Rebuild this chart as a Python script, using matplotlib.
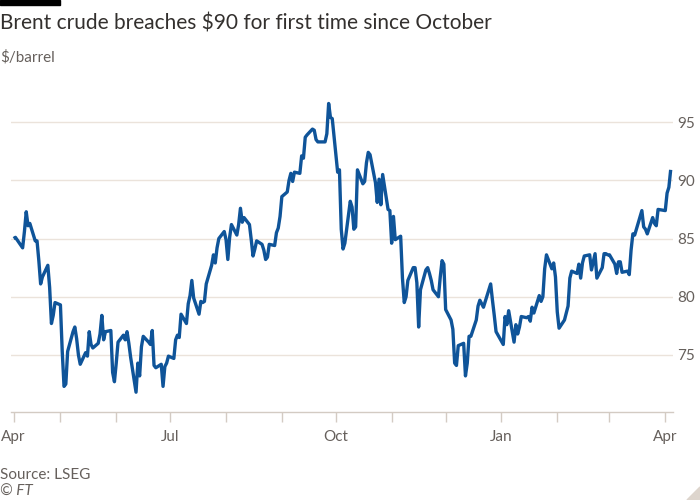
import matplotlib
matplotlib.use('Agg')
import matplotlib.pyplot as plt
from matplotlib.patches import Polygon
import pandas as pd

plt.rcParams['font.family'] = ['Lato', 'DejaVu Sans']

# Brent crude, $/barrel (daily)
dates = [
    # Apr 2023
    '2023-04-05', '2023-04-06', '2023-04-10', '2023-04-11', '2023-04-12', '2023-04-13',
    '2023-04-14', '2023-04-17', '2023-04-18', '2023-04-19', '2023-04-20', '2023-04-21',
    '2023-04-24', '2023-04-25', '2023-04-26', '2023-04-27', '2023-04-28',
    # May
    '2023-05-01', '2023-05-02', '2023-05-03', '2023-05-04', '2023-05-05', '2023-05-08',
    '2023-05-09', '2023-05-10', '2023-05-11', '2023-05-12', '2023-05-15', '2023-05-16',
    '2023-05-17', '2023-05-18', '2023-05-19', '2023-05-22', '2023-05-23', '2023-05-24',
    '2023-05-25', '2023-05-26', '2023-05-29', '2023-05-30', '2023-05-31',
    # Jun
    '2023-06-01', '2023-06-02', '2023-06-05', '2023-06-06', '2023-06-07', '2023-06-08',
    '2023-06-09', '2023-06-12', '2023-06-13', '2023-06-14', '2023-06-15', '2023-06-16',
    '2023-06-19', '2023-06-20', '2023-06-21', '2023-06-22', '2023-06-23', '2023-06-26',
    '2023-06-27', '2023-06-28', '2023-06-29', '2023-06-30',
    # Jul
    '2023-07-03', '2023-07-04', '2023-07-05', '2023-07-06', '2023-07-07', '2023-07-10',
    '2023-07-11', '2023-07-12', '2023-07-13', '2023-07-14', '2023-07-17', '2023-07-18',
    '2023-07-19', '2023-07-20', '2023-07-21', '2023-07-24', '2023-07-25', '2023-07-26',
    '2023-07-27', '2023-07-28', '2023-07-31',
    # Aug
    '2023-08-01', '2023-08-02', '2023-08-03', '2023-08-04', '2023-08-07', '2023-08-08',
    '2023-08-09', '2023-08-10', '2023-08-11', '2023-08-14', '2023-08-15', '2023-08-16',
    '2023-08-17', '2023-08-18', '2023-08-21', '2023-08-22', '2023-08-23', '2023-08-24',
    '2023-08-25', '2023-08-28', '2023-08-29', '2023-08-30', '2023-08-31',
    # Sep
    '2023-09-01', '2023-09-04', '2023-09-05', '2023-09-06', '2023-09-07', '2023-09-08',
    '2023-09-11', '2023-09-12', '2023-09-13', '2023-09-14', '2023-09-15', '2023-09-18',
    '2023-09-19', '2023-09-20', '2023-09-21', '2023-09-22', '2023-09-25', '2023-09-26',
    '2023-09-27', '2023-09-28', '2023-09-29',
    # Oct
    '2023-10-02', '2023-10-03', '2023-10-04', '2023-10-05', '2023-10-06', '2023-10-09',
    '2023-10-10', '2023-10-11', '2023-10-12', '2023-10-13', '2023-10-16', '2023-10-17',
    '2023-10-18', '2023-10-19', '2023-10-20', '2023-10-23', '2023-10-24', '2023-10-25',
    '2023-10-26', '2023-10-27', '2023-10-30', '2023-10-31',
    # Nov
    '2023-11-01', '2023-11-02', '2023-11-03', '2023-11-06', '2023-11-07', '2023-11-08',
    '2023-11-09', '2023-11-10', '2023-11-13', '2023-11-14', '2023-11-15', '2023-11-16',
    '2023-11-17', '2023-11-20', '2023-11-21', '2023-11-22', '2023-11-23', '2023-11-24',
    '2023-11-27', '2023-11-28', '2023-11-29', '2023-11-30',
    # Dec
    '2023-12-01', '2023-12-04', '2023-12-05', '2023-12-06', '2023-12-07', '2023-12-08',
    '2023-12-11', '2023-12-12', '2023-12-13', '2023-12-14', '2023-12-15', '2023-12-18',
    '2023-12-19', '2023-12-20', '2023-12-21', '2023-12-22', '2023-12-26', '2023-12-27',
    '2023-12-28', '2023-12-29',
    # Jan 2024
    '2024-01-02', '2024-01-03', '2024-01-04', '2024-01-05', '2024-01-08', '2024-01-09',
    '2024-01-10', '2024-01-11', '2024-01-12', '2024-01-15', '2024-01-16', '2024-01-17',
    '2024-01-18', '2024-01-19', '2024-01-22', '2024-01-23', '2024-01-24', '2024-01-25',
    '2024-01-26', '2024-01-29', '2024-01-30', '2024-01-31',
    # Feb
    '2024-02-01', '2024-02-02', '2024-02-05', '2024-02-06', '2024-02-07', '2024-02-08',
    '2024-02-09', '2024-02-12', '2024-02-13', '2024-02-14', '2024-02-15', '2024-02-16',
    '2024-02-19', '2024-02-20', '2024-02-21', '2024-02-22', '2024-02-23', '2024-02-26',
    '2024-02-27', '2024-02-28', '2024-02-29',
    # Mar
    '2024-03-01', '2024-03-04', '2024-03-05', '2024-03-06', '2024-03-07', '2024-03-08',
    '2024-03-11', '2024-03-12', '2024-03-13', '2024-03-14', '2024-03-15', '2024-03-18',
    '2024-03-19', '2024-03-20', '2024-03-21', '2024-03-22', '2024-03-25', '2024-03-26',
    '2024-03-27', '2024-03-28',
    # Apr
    '2024-04-01', '2024-04-02', '2024-04-03', '2024-04-04',
]

prices = [
    # Apr 2023
    85.0, 85.1, 84.2, 85.6, 87.3, 86.1, 86.3, 84.8, 84.8, 83.1, 81.1, 81.7,
    82.7, 80.8, 77.7, 78.4, 79.5,
    # May
    79.3, 75.3, 72.3, 72.5, 75.3, 77.0, 77.4, 76.4, 75.0, 74.2, 75.2, 74.9,
    77.0, 75.9, 75.6, 76.0, 76.8, 78.4, 76.3, 77.0, 77.1, 73.5, 72.7,
    # Jun
    74.3, 76.1, 76.7, 76.3, 77.0, 76.0, 74.8, 71.8, 74.3, 73.2, 75.7, 76.6,
    76.1, 75.9, 77.1, 74.1, 73.9, 74.2, 72.3, 74.0, 74.3, 74.9,
    # Jul
    74.7, 76.3, 76.7, 76.5, 78.5, 77.7, 79.4, 80.1, 81.4, 79.9, 78.5, 79.6,
    79.5, 79.6, 81.1, 82.7, 83.6, 82.9, 84.2, 85.0, 85.6,
    # Aug
    84.9, 83.2, 85.1, 86.2, 85.3, 86.2, 87.6, 86.4, 86.8, 86.2, 84.9, 83.5,
    84.1, 84.8, 84.5, 84.0, 83.2, 83.4, 84.5, 84.4, 85.5, 85.9, 86.9,
    # Sep
    88.6, 89.0, 90.0, 90.6, 89.9, 90.7, 90.6, 92.1, 91.9, 93.7, 93.9, 94.4,
    94.3, 93.5, 93.3, 93.3, 93.3, 94.0, 96.6, 95.4, 95.3,
    # Oct
    90.7, 90.9, 85.8, 84.1, 84.6, 88.2, 87.7, 85.8, 86.0, 90.9, 89.7, 89.9,
    91.5, 92.4, 92.2, 89.8, 88.1, 90.1, 87.9, 90.5, 87.5, 87.4,
    # Nov
    84.6, 86.9, 84.9, 85.2, 81.6, 79.5, 80.0, 81.4, 82.5, 82.5, 81.2, 77.4,
    80.6, 82.3, 82.5, 82.0, 81.4, 80.6, 80.0, 81.7, 83.1, 82.8,
    # Dec
    78.9, 78.0, 77.2, 74.3, 74.1, 75.8, 76.0, 73.2, 74.3, 76.6, 76.6, 78.0,
    79.2, 79.7, 79.4, 79.1, 81.1, 79.7, 78.4, 77.0,
    # Jan 2024
    75.9, 78.3, 77.6, 78.8, 76.1, 77.6, 76.8, 77.4, 78.3, 78.2, 78.3, 77.9,
    79.1, 78.6, 80.1, 79.6, 80.0, 82.4, 83.6, 82.4, 82.9, 81.7,
    # Feb
    78.7, 77.3, 78.0, 78.6, 79.2, 81.6, 82.2, 82.0, 82.8, 81.6, 82.9, 83.5,
    83.6, 82.3, 83.0, 83.7, 81.6, 82.5, 83.7, 83.7, 83.6,
    # Mar
    83.6, 82.8, 82.0, 83.0, 83.0, 82.1, 82.2, 81.9, 84.0, 85.4, 85.3, 86.9,
    87.4, 86.0, 85.8, 85.4, 86.8, 86.3, 86.1, 87.5,
    # Apr
    87.4, 88.9, 89.4, 90.9,
]

tick_dates = ['2023-04-05', '2023-05-01', '2023-06-01', '2023-07-01', '2023-08-01',
              '2023-09-01', '2023-10-01', '2023-11-01', '2023-12-01', '2024-01-01',
              '2024-02-01', '2024-03-01', '2024-04-01']
tick_labels = ['Apr', '', '', 'Jul', '', '', 'Oct', '', '', 'Jan', '', '', 'Apr']
y_ticks = [75, 80, 85, 90, 95]

title = 'Brent crude breaches $90 for first time since October'
subtitle = '$/barrel'
source = 'Source: LSEG'

# FT palette
LINE = '#0f5499'
TEXT = '#33302e'
MUTED = '#66605c'
GRID = '#ebe3db'
AXIS = '#d3cbc3'

x = pd.to_datetime(dates)

fig = plt.figure(figsize=(7, 5), dpi=100)
fig.patch.set_facecolor('white')
ax = fig.add_axes([11 / 700, 88 / 500, 662 / 700, 319 / 500])

ax.plot(x, prices, color=LINE, linewidth=2.4, solid_joinstyle='round',
        solid_capstyle='butt', zorder=3)

ax.set_xlim(pd.Timestamp('2023-04-03 13:00'), pd.Timestamp('2024-04-05 07:00'))
ax.set_ylim(70.1, 97.5)

# y axis on the right, labels only
ax.yaxis.tick_right()
ax.set_yticks(y_ticks)
ax.set_yticklabels([str(v) for v in y_ticks])
ax.tick_params(axis='y', length=0, pad=3, labelsize=11, labelcolor=MUTED)
ax.grid(axis='y', color=GRID, linewidth=1)

ax.set_xticks(pd.to_datetime(tick_dates))
ax.set_xticklabels(tick_labels)
ax.tick_params(axis='x', length=7, width=1, color=AXIS, pad=6,
               labelsize=11, labelcolor=MUTED)

for side in ['top', 'left', 'right']:
    ax.spines[side].set_visible(False)
ax.spines['bottom'].set_color(AXIS)
ax.spines['bottom'].set_linewidth(1)
ax.set_axisbelow(True)

# header / footer
fig.patches.append(plt.Rectangle((0, 1 - 5 / 500), 60 / 700, 5 / 500,
                                 transform=fig.transFigure, color='black'))
fig.text(0, 1 - 24 / 500, title, fontsize=15, color=TEXT, va='center', ha='left')
fig.text(0, 1 - 57 / 500, subtitle, fontsize=11, color=MUTED, va='center', ha='left')
fig.text(0, 1 - 475 / 500, source, fontsize=11, color=MUTED, va='center', ha='left')
fig.text(0, 1 - 492 / 500, '© FT', fontsize=11, color=MUTED, va='center', ha='left',
         style='italic')

# little corner mark bottom right
fig.patches.append(Polygon([(1, 0), (1, 13 / 500), (1 - 13 / 700, 0)], closed=True,
                           transform=fig.transFigure, color='#ddd5cd'))

fig.savefig('out.png', dpi=100, facecolor='white')
